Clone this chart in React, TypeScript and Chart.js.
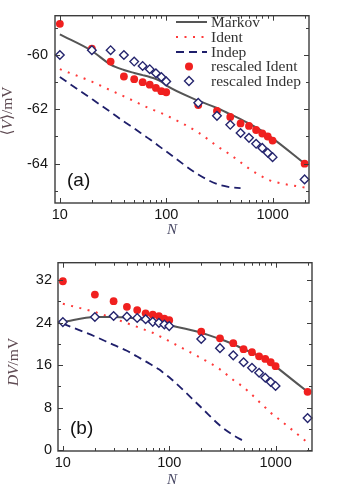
import React, { useEffect, useRef } from "react";
import { Chart, registerables } from "chart.js";

Chart.register(...registerables);

// ---------- data ----------
const N_ALL = [10, 20, 30, 40, 50, 60, 70, 80, 90, 100, 200, 300, 400, 500, 600, 700, 800, 900, 1000, 2000];
const N_INDEP = [10, 20, 30, 40, 50, 60, 70, 80, 90, 100, 200, 300, 400, 500];
const X_TICKS = [10, 100, 1000];
const X_MINOR = [20, 30, 40, 50, 60, 70, 80, 90, 200, 300, 400, 500, 600, 700, 800, 900, 2000];

// panel (a): <V>/mV
const A_MARKOV = [-59.24, -59.85, -60.35, -60.55, -60.66, -60.74, -60.81, -60.88, -60.98, -61.12, -61.68, -61.95, -62.18, -62.36, -62.52, -62.66, -62.8, -62.95, -63.07, -64.0];
const A_IDENT = [-60.52, -60.98, -61.3, -61.52, -61.7, -61.85, -61.97, -62.06, -62.14, -62.22, -62.85, -63.35, -63.67, -63.95, -64.18, -64.35, -64.48, -64.58, -64.65, -64.88];
const A_INDEP = [-60.81, -61.62, -62.1, -62.45, -62.7, -62.92, -63.1, -63.27, -63.42, -63.55, -64.4, -64.75, -64.87, -64.9];
const A_RESC_IDENT = [-58.85, -59.76, -60.24, -60.79, -60.89, -61.0, -61.09, -61.21, -61.33, -61.37, -61.84, -62.06, -62.28, -62.52, -62.61, -62.76, -62.89, -63.0, -63.15, -64.0];
const A_RESC_INDEP = [-60.0, -59.82, -59.82, -60.0, -60.24, -60.4, -60.52, -60.67, -60.81, -60.97, -61.76, -62.24, -62.57, -62.87, -63.05, -63.27, -63.42, -63.6, -63.76, -64.58];
const A_Y_TICKS = [-64, -62, -60];
const A_Y_MINOR = [-65, -63, -61, -59];

// panel (b): DV/mV
const B_MARKOV = [24.1, 25.05, 25.05, 24.95, 24.75, 24.5, 24.2, 23.95, 23.7, 23.5, 22.1, 20.9, 19.95, 19.0, 18.35, 17.65, 17.1, 16.5, 15.75, 10.96];
const B_IDENT = [27.55, 26.0, 24.8, 23.9, 23.2, 22.6, 22.1, 21.5, 21.0, 20.5, 17.3, 15.2, 13.2, 11.8, 10.4, 9.1, 8.0, 7.0, 6.3, 1.4];
const B_INDEP = [23.8, 21.4, 19.8, 18.7, 17.6, 16.7, 15.9, 15.2, 14.4, 13.7, 8.0, 4.6, 2.8, 1.67];
const B_RESC_IDENT = [31.8, 29.29, 28.05, 26.99, 26.37, 25.76, 25.5, 25.2, 24.77, 24.46, 22.29, 21.04, 20.12, 19.0, 18.44, 17.65, 17.15, 16.53, 15.79, 10.96];
const B_RESC_INDEP = [24.1, 25.07, 25.26, 25.13, 24.89, 24.64, 24.15, 23.96, 23.65, 23.35, 20.93, 19.19, 17.83, 16.53, 15.48, 14.55, 13.62, 12.82, 12.07, 6.0];
const B_Y_TICKS = [0, 8, 16, 24, 32];
const B_Y_MINOR = [4, 12, 20, 28];

const LEGEND_ORDER = ["Markov", "Ident", "Indep", "rescaled Ident", "rescaled Indep"];

// ---------- styles ----------
const RED = "#f0201f";
const RED_LINE = "#ff3a3a";
const NAVY = "#25256e";
const NAVY_LINE = "#1f1f6b";
const GRAY = "#555555";
const FRAME = "#3c3c3c";
const SANS = '"Liberation Sans", Arial, sans-serif';
const SERIF = '"Liberation Serif", "DejaVu Serif", serif';
const TITLE_COLOR = "#5e4a52";

function pts(xs: number[], ys: number[]) {
  return xs.map((x, i) => ({ x, y: ys[i] }));
}

function buildDatasets(markov: number[], ident: number[], indep: number[], rIdent: number[], rIndep: number[]) {
  return [
    {
      label: "rescaled Indep",
      data: pts(N_ALL, rIndep),
      showLine: false,
      pointStyle: "rectRot",
      pointRadius: 4.3,
      pointBorderWidth: 1.4,
      pointBorderColor: NAVY,
      pointBackgroundColor: "#ffffff",
      borderColor: NAVY,
      backgroundColor: "#ffffff",
      clip: false,
    },
    {
      label: "rescaled Ident",
      data: pts(N_ALL, rIdent),
      showLine: false,
      pointStyle: "circle",
      pointRadius: 3.9,
      pointBorderWidth: 0,
      pointBackgroundColor: RED,
      borderColor: RED,
      backgroundColor: RED,
      clip: false,
    },
    {
      label: "Markov",
      data: pts(N_ALL, markov),
      borderColor: GRAY,
      borderWidth: 2,
      pointRadius: 0,
      cubicInterpolationMode: "monotone",
    },
    {
      label: "Ident",
      data: pts(N_ALL, ident),
      borderColor: RED_LINE,
      borderWidth: 2,
      borderDash: [2, 6.5],
      pointRadius: 0,
      cubicInterpolationMode: "monotone",
    },
    {
      label: "Indep",
      data: pts(N_INDEP, indep),
      borderColor: NAVY_LINE,
      borderWidth: 1.8,
      borderDash: [8, 5],
      pointRadius: 0,
      cubicInterpolationMode: "monotone",
    },
  ];
}

type Part = { t: string; it?: boolean };

function richWidth(ctx: CanvasRenderingContext2D, parts: Part[], size: number) {
  let w = 0;
  for (const p of parts) {
    ctx.font = `${p.it ? "italic " : ""}${size}px ${SERIF}`;
    w += ctx.measureText(p.t).width;
  }
  return w;
}

function drawRichCentered(ctx: CanvasRenderingContext2D, parts: Part[], size: number) {
  const total = richWidth(ctx, parts, size);
  let x = -total / 2;
  ctx.textBaseline = "middle";
  ctx.textAlign = "left";
  for (const p of parts) {
    ctx.font = `${p.it ? "italic " : ""}${size}px ${SERIF}`;
    ctx.fillText(p.t, x, 0);
    x += ctx.measureText(p.t).width;
  }
}

const decorPlugin = {
  id: "decor",
  afterDraw(chart: any, _args: any, opts: any) {
    const { ctx, chartArea: ca, scales } = chart;
    const xs = scales.x;
    const ys = scales.y;
    ctx.save();

    // inward ticks
    ctx.strokeStyle = FRAME;
    ctx.lineWidth = 1;
    const seg = (x1: number, y1: number, x2: number, y2: number) => {
      ctx.beginPath();
      ctx.moveTo(x1, y1);
      ctx.lineTo(x2, y2);
      ctx.stroke();
    };
    const xTick = (v: number, len: number) => {
      const px = Math.round(xs.getPixelForValue(v)) + 0.5;
      if (px < ca.left || px > ca.right) return;
      seg(px, ca.bottom, px, ca.bottom - len);
      seg(px, ca.top, px, ca.top + len);
    };
    const yTick = (v: number, len: number) => {
      const py = Math.round(ys.getPixelForValue(v)) + 0.5;
      if (py < ca.top || py > ca.bottom) return;
      seg(ca.left, py, ca.left + len, py);
      seg(ca.right, py, ca.right - len, py);
    };
    X_TICKS.forEach((v) => xTick(v, 5));
    X_MINOR.forEach((v) => xTick(v, 3));
    opts.yMajor.forEach((v: number) => yTick(v, 5));
    opts.yMinor.forEach((v: number) => yTick(v, 3));

    // frame
    ctx.lineWidth = 1.4;
    ctx.strokeRect(ca.left, ca.top, ca.right - ca.left, ca.bottom - ca.top);

    // panel label
    ctx.fillStyle = "#111111";
    ctx.font = `19px ${SANS}`;
    ctx.textAlign = "left";
    ctx.textBaseline = "middle";
    ctx.fillText(opts.label, ca.left + 12, ca.bottom - 22);

    // x title
    ctx.fillStyle = "#4a4a66";
    ctx.save();
    ctx.translate(opts.nX, opts.nY);
    drawRichCentered(ctx, [{ t: "N", it: true }], 15);
    ctx.restore();

    // y title
    ctx.fillStyle = TITLE_COLOR;
    ctx.save();
    ctx.translate(opts.yTitleX, opts.yTitleY);
    ctx.rotate(-Math.PI / 2);
    drawRichCentered(ctx, opts.yTitle, 15.5);
    ctx.restore();

    // legend
    if (opts.legend) {
      const rows = [22, 37, 52, 66.5, 81];
      const lx1 = 176;
      const lx2 = 207;
      const mx = 189;
      const tx = 211;
      LEGEND_ORDER.forEach((name, i) => {
        const ds: any = chart.data.datasets.find((d: any) => d.label === name);
        if (!ds) return;
        const y = rows[i];
        ctx.save();
        if (ds.showLine === false) {
          ctx.beginPath();
          if (ds.pointStyle === "circle") {
            ctx.fillStyle = ds.pointBackgroundColor;
            ctx.arc(mx, y, 4, 0, Math.PI * 2);
            ctx.fill();
          } else {
            const r = 4.5;
            ctx.moveTo(mx - r, y);
            ctx.lineTo(mx, y - r);
            ctx.lineTo(mx + r, y);
            ctx.lineTo(mx, y + r);
            ctx.closePath();
            ctx.fillStyle = "#ffffff";
            ctx.fill();
            ctx.lineWidth = ds.pointBorderWidth;
            ctx.strokeStyle = ds.pointBorderColor;
            ctx.stroke();
          }
        } else {
          ctx.strokeStyle = ds.borderColor;
          ctx.lineWidth = ds.borderWidth;
          ctx.setLineDash(ds.borderDash || []);
          ctx.beginPath();
          ctx.moveTo(lx1, y);
          ctx.lineTo(lx2, y);
          ctx.stroke();
        }
        ctx.restore();
        ctx.fillStyle = "#333333";
        ctx.font = `15.5px ${SERIF}`;
        ctx.textAlign = "left";
        ctx.textBaseline = "middle";
        ctx.fillText(name, tx, y + 0.5);
      });
    }
    ctx.restore();
  },
};

type PanelCfg = {
  height: number;
  axisW: number;
  axisH: number;
  padTop: number;
  padRight: number;
  yMin: number;
  yMax: number;
  yTicks: number[];
  yMinor: number[];
  yPad: number;
  datasets: any[];
  label: string;
  yTitle: Part[];
  yTitleX: number;
  yTitleY: number;
  nX: number;
  nY: number;
  legend: boolean;
};

function Panel({ cfg }: { cfg: PanelCfg }) {
  const ref = useRef<HTMLCanvasElement>(null);
  useEffect(() => {
    const chart = new Chart(ref.current as HTMLCanvasElement, {
      type: "line",
      data: { datasets: cfg.datasets },
      options: {
        responsive: false,
        animation: false,
        devicePixelRatio: 1,
        events: [],
        layout: { padding: { left: 0, top: cfg.padTop, right: cfg.padRight, bottom: 0 } },
        plugins: {
          legend: { display: false },
          tooltip: { enabled: false },
          decor: {
            yMajor: cfg.yTicks,
            yMinor: cfg.yMinor,
            label: cfg.label,
            yTitle: cfg.yTitle,
            yTitleX: cfg.yTitleX,
            yTitleY: cfg.yTitleY,
            nX: cfg.nX,
            nY: cfg.nY,
            legend: cfg.legend,
          },
        } as any,
        scales: {
          x: {
            type: "logarithmic",
            min: 9,
            max: 2200,
            grid: { display: false, drawTicks: false },
            border: { display: false },
            afterBuildTicks: (s: any) => {
              s.ticks = X_TICKS.map((value) => ({ value }));
            },
            afterFit: (s: any) => {
              s.height = cfg.axisH;
            },
            ticks: {
              autoSkip: false,
              maxRotation: 0,
              padding: 3,
              color: "#151515",
              font: { family: SANS, size: 14.5 },
              callback: (v: any) => String(v),
            },
          },
          y: {
            type: "linear",
            min: cfg.yMin,
            max: cfg.yMax,
            grid: { display: false, drawTicks: false },
            border: { display: false },
            afterBuildTicks: (s: any) => {
              s.ticks = cfg.yTicks.map((value) => ({ value }));
            },
            afterFit: (s: any) => {
              s.width = cfg.axisW;
            },
            ticks: {
              autoSkip: false,
              padding: cfg.yPad,
              color: "#151515",
              font: { family: SANS, size: 14.5 },
              callback: (v: any) => String(v),
            },
          },
        },
      } as any,
      plugins: [decorPlugin as any],
    });
    return () => chart.destroy();
  }, []);
  return <canvas ref={ref} width={351} height={cfg.height} style={{ display: "block", width: 351, height: cfg.height }} />;
}

const PANEL_A: PanelCfg = {
  height: 248,
  axisW: 55,
  axisH: 45,
  padTop: 13,
  padRight: 42,
  yMin: -65.45,
  yMax: -58.55,
  yTicks: A_Y_TICKS,
  yMinor: A_Y_MINOR,
  yPad: 7,
  datasets: buildDatasets(A_MARKOV, A_IDENT, A_INDEP, A_RESC_IDENT, A_RESC_INDEP),
  label: "(a)",
  yTitle: [{ t: "⟨" }, { t: "V", it: true }, { t: "⟩/mV" }],
  yTitleX: 8,
  yTitleY: 111,
  nX: 172,
  nY: 230,
  legend: true,
};

const PANEL_B: PanelCfg = {
  height: 249,
  axisW: 58,
  axisH: 46,
  padTop: 12,
  padRight: 39,
  yMin: -0.2,
  yMax: 35.3,
  yTicks: B_Y_TICKS,
  yMinor: B_Y_MINOR,
  yPad: 6,
  datasets: buildDatasets(B_MARKOV, B_IDENT, B_INDEP, B_RESC_IDENT, B_RESC_INDEP),
  label: "(b)",
  yTitle: [{ t: "DV", it: true }, { t: "/mV" }],
  yTitleX: 14,
  yTitleY: 114,
  nX: 172,
  nY: 232,
  legend: false,
};

export default function App() {
  return (
    <div style={{ position: "absolute", left: 0, top: 0, width: 351, height: 497, background: "#ffffff" }}>
      <Panel cfg={PANEL_A} />
      <Panel cfg={PANEL_B} />
    </div>
  );
}
